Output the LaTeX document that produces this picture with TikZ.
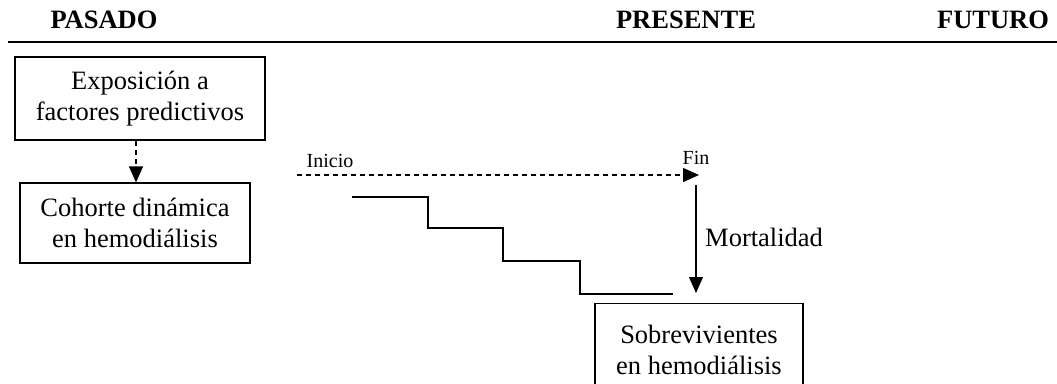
\documentclass[tikz,border=0pt]{standalone}
\usepackage{fontspec}
\setmainfont{Liberation Serif}
\usetikzlibrary{arrows.meta}

\begin{document}
\begin{tikzpicture}[x=1pt, y=-1pt, >={Triangle[length=16pt,width=14pt]},
    every node/.style={font=\fontsize{26.5}{31}\selectfont, inner sep=0pt},
    caja/.style={draw, line width=1.2pt, align=center},
    etapa/.style={font=\fontsize{26.5}{31}\selectfont\bfseries},
    marca/.style={font=\fontsize{20}{24}\selectfont},
    punteada/.style={line width=1.2pt, dash pattern=on 5pt off 4pt}]
      \clip (0,0) rectangle (1057,383);
      \node[etapa] (pasado) at (104,20) {PASADO};
      \node[etapa] (presente) at (686,20) {PRESENTE};
      \node[etapa] (futuro) at (993,20) {FUTURO};
      \draw[line width=2pt] (8,42) -- (1057,42);
      \node[caja, minimum width=250pt, minimum height=83pt] (exposicion) at (140,98.5)
            {Exposición a\\factores predictivos};
      \node[caja, minimum width=230pt, minimum height=80pt] (cohorte) at (135,223)
            {Cohorte dinámica\\en hemodiálisis};
      \node[caja, minimum width=208pt, minimum height=92pt, anchor=north] (sobrev) at (699,303)
            {Sobrevivientes\\en hemodiálisis};
      \draw[->, punteada] (exposicion.south -| 136,0) -- (cohorte.north -| 136,0);
      % linea de seguimiento
      \coordinate (t0) at (297,175);
      \coordinate (t1) at (699,175);
      \node[marca] (inicio) at (330,161) {Inicio};
      \node[marca] (fin) at (696,158) {Fin};
      \draw[->, punteada] (t0) -- (t1);
      \coordinate (caida) at (696,185);
      \draw[->, line width=1.2pt, shorten >=10pt] (caida) -- (caida |- sobrev.north);
      \node[anchor=west] (mortalidad) at (705,237) {Mortalidad};
      \draw[line width=2pt] (352,197) -| (428,228) -| (503,261) -| (580,294) -- (673,294);
    \end{tikzpicture}
\end{document}
